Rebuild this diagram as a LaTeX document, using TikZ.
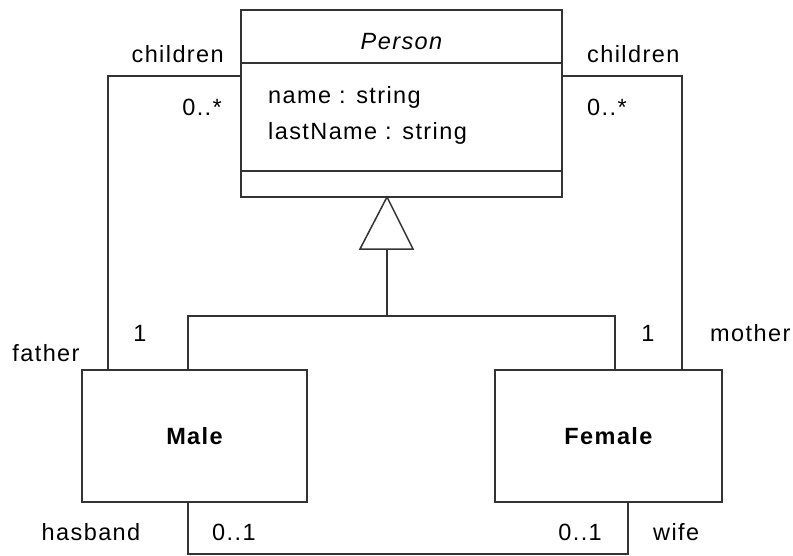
\documentclass[tikz,border=0pt]{standalone}
\usepackage{fontspec}
\setmainfont[LetterSpace=6]{Liberation Sans}
\begin{document}
\begin{tikzpicture}[x=1pt,y=-1pt,
  ln/.style={draw=black!80, line width=1.5pt},
  cls/.style={ln, rectangle, inner sep=0pt},
  lbl/.style={inner sep=0pt, font=\fontsize{23.5}{26}\selectfont}]
\useasboundingbox[fill=white] (0,0) rectangle (793,555);
% classes
\node[cls, minimum width=321pt, minimum height=187pt] (person) at (401.5,103.5) {};
\draw[ln] (241,63) -- (562,63);
\draw[ln] (241,171) -- (562,171);
\node[lbl, font=\fontsize{23.5}{26}\selectfont\itshape] (ptitle) at (401.5,42) {Person};
\node[lbl, anchor=west] (a1) at (268,97) {name : string};
\node[lbl, anchor=west] (a2) at (268,133) {lastName : string};
\node[cls, minimum width=225pt, minimum height=132pt] (male) at (194.5,436) {};
\node[lbl, font=\fontsize{23.5}{26}\selectfont\bfseries] at (male.center) {Male};
\node[cls, minimum width=227pt, minimum height=132pt] (female) at (608.5,436) {};
\node[lbl, font=\fontsize{23.5}{26}\selectfont\bfseries] at (female.center) {Female};
% generalization
\coordinate (apex) at (387,197);
\coordinate (tbl) at (360,249);
\coordinate (tbr) at (413,249);
\coordinate (tbm) at (387,249);
\coordinate (junc) at (387,316);
\coordinate (mg) at (188,370);
\coordinate (fg) at (615,370);
\draw[ln, fill=white, line join=miter] (apex) -- (tbr) -- (tbl) -- cycle;
\draw[ln] (tbm) -- (junc);
\draw[ln] (mg) |- (junc) -| (fg);
% children/father
\coordinate (pl) at (241,76);
\coordinate (mf) at (108,370);
\draw[ln] (pl) -| (mf);
% children/mother
\coordinate (pr) at (562,76);
\coordinate (fm) at (682,370);
\draw[ln] (pr) -| (fm);
% husband/wife
\coordinate (mh) at (188,502);
\coordinate (fw) at (628,502);
\coordinate (hb) at (188,554);
\coordinate (wb) at (628,554);
\draw[ln] (mh) -- (hb) -- (wb) -- (fw);
% labels
\node[lbl, anchor=east] at (224,54) {children};
\node[lbl, anchor=east] at (222,107) {0..*};
\node[lbl, anchor=west] at (587,54) {children};
\node[lbl, anchor=west] at (587,107) {0..*};
\node[lbl] at (46,353) {father};
\node[lbl] at (140,333) {1};
\node[lbl] at (648,333) {1};
\node[lbl, anchor=west] at (710,333) {mother};
\node[lbl] at (91,532) {hasband};
\node[lbl, anchor=west] at (212,532) {0..1};
\node[lbl, anchor=east] at (602,532) {0..1};
\node[lbl, anchor=west] at (653,532) {wife};
\end{tikzpicture}
\end{document}
